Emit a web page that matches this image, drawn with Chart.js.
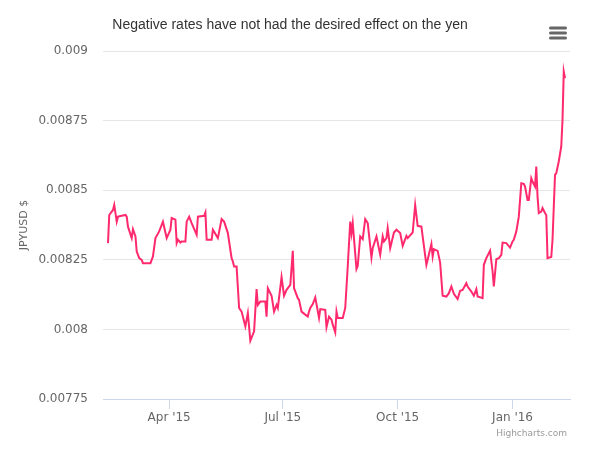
<!DOCTYPE html>
<html>
<head>
<meta charset="utf-8">
<script src="https://cdn.jsdelivr.net/npm/chart.js@4"></script>
<style>
  html, body { margin: 0; padding: 0; background: #fff; }
  #wrap { position: relative; width: 600px; height: 458px; }
</style>
</head>
<body>
<div id="wrap"><canvas id="chart" width="600" height="458"></canvas></div>
<script>
/* JPYUSD line — days counted from 1 Apr 2015. */

const TITLE = "Negative rates have not had the desired effect on the yen";
const Y_TITLE = "JPYUSD $";
const CREDIT = "Highcharts.com";

const dayOffsets = [
  -49, -48, -45, -44, -42, -41, -38, -35, -34, -33, -30, -29, -27, -26, -24, -22, -21, -15, -13, -11,
  -8, -5, -2, 1, 2, 5, 6, 7, 9, 10, 13, 14, 16, 18, 22, 23, 28, 29, 30, 34,
  35, 39, 42, 44, 47, 50, 51, 52, 54, 56, 58, 61, 63, 65, 68, 70, 71, 73, 77, 78,
  79, 82, 84, 86, 87, 90, 92, 94, 97, 99, 100, 103, 104, 106, 109, 111, 112, 113, 115, 117,
  120, 121, 125, 126, 128, 130, 131, 133, 134, 135, 139, 141, 143, 145, 146, 147, 150, 151, 153, 155,
  157, 159, 162, 163, 166, 169, 171, 172, 174, 175, 177, 180, 182, 185, 187, 190, 191, 195, 197, 199,
  202, 203, 206, 207, 210, 211, 212, 215, 217, 219, 222, 224, 226, 228, 231, 233, 235, 238, 239, 242,
  244, 246, 247, 251, 252, 254, 257, 259, 260, 262, 264, 266, 267, 270, 273, 275, 276, 278, 280, 282,
  284, 285, 287, 288, 290, 291, 293, 294, 295, 296, 298, 299, 301, 302, 303, 306, 307, 309, 310, 312,
  314, 315, 316, 317
];

const jpyusd = [
  0.008310, 0.008411, 0.008429, 0.008447, 0.008387, 0.008405, 0.008408, 0.008411, 0.008405, 0.008369,
  0.008328, 0.008360, 0.008334, 0.008280, 0.008256, 0.008250, 0.008238, 0.008238, 0.008262, 0.008328,
  0.008352, 0.008387, 0.008328, 0.008358, 0.008400, 0.008394, 0.008310, 0.008322, 0.008312, 0.008316,
  0.008316, 0.008387, 0.008405, 0.008382, 0.008340, 0.008405, 0.008408, 0.008420, 0.008322, 0.008322,
  0.008358, 0.008328, 0.008396, 0.008387, 0.008346, 0.008256, 0.008244, 0.008226, 0.008226, 0.008077,
  0.008064, 0.008011, 0.008059, 0.007959, 0.007993, 0.008145, 0.008088, 0.008100, 0.008100, 0.008046,
  0.008148, 0.008121, 0.008064, 0.008088, 0.008077, 0.008188, 0.008121, 0.008142, 0.008160, 0.008282,
  0.008148, 0.008112, 0.008106, 0.008064, 0.008053, 0.008046, 0.008064, 0.008077, 0.008091, 0.008115,
  0.008041, 0.008073, 0.008070, 0.008008, 0.008046, 0.008035, 0.008017, 0.007989, 0.008064, 0.008041,
  0.008041, 0.008077, 0.008226, 0.008387, 0.008346, 0.008382, 0.008217, 0.008228, 0.008334, 0.008324,
  0.008396, 0.008382, 0.008258, 0.008292, 0.008334, 0.008268, 0.008334, 0.008316, 0.008328, 0.008364,
  0.008292, 0.008348, 0.008358, 0.008346, 0.008300, 0.008336, 0.008328, 0.008348, 0.008447, 0.008372,
  0.008369, 0.008334, 0.008232, 0.008250, 0.008307, 0.008262, 0.008288, 0.008282, 0.008240, 0.008121,
  0.008118, 0.008130, 0.008154, 0.008128, 0.008109, 0.008139, 0.008142, 0.008166, 0.008154, 0.008136,
  0.008121, 0.008145, 0.008118, 0.008112, 0.008232, 0.008256, 0.008283, 0.008208, 0.008154, 0.008252,
  0.008256, 0.008268, 0.008312, 0.008310, 0.008294, 0.008316, 0.008322, 0.008352, 0.008405, 0.008525,
  0.008523, 0.008513, 0.008465, 0.008465, 0.008543, 0.008531, 0.008513, 0.008585, 0.008477, 0.008418,
  0.008423, 0.008436, 0.008418, 0.008411, 0.008256, 0.008260, 0.008322, 0.008555, 0.008561, 0.008603,
  0.008657, 0.008752, 0.008926, 0.008902
];

const xTickDays = [0, 91, 183, 275];
const xTickLabels = ["Apr '15", "Jul '15", "Oct '15", "Jan '16"];
const yTicks = [0.00775, 0.008, 0.00825, 0.0085, 0.00875, 0.009];

const FONT = "'DejaVu Sans', sans-serif";
const TITLE_FONT = "'Liberation Sans', Arial, sans-serif";
const LINE = "#ff2a6e";

// title, export-menu glyph and credit line drawn straight onto the canvas
const decor = {
  id: "decor",
  afterDraw(chart) {
    const { ctx } = chart;
    ctx.save();
    ctx.fillStyle = "#333333";
    ctx.font = `14px ${TITLE_FONT}`;
    ctx.textAlign = "center";
    ctx.textBaseline = "middle";
    ctx.fillText(TITLE, 290, 25);

    ctx.fillStyle = "#666666";
    [28, 33, 38].forEach((y) => {
      ctx.beginPath();
      ctx.roundRect(549, y - 1.5, 18, 3, 1.5);
      ctx.fill();
    });

    ctx.fillStyle = "#999999";
    ctx.font = `9px ${FONT}`;
    ctx.textAlign = "right";
    ctx.fillText(CREDIT, 567, 434);
    ctx.restore();
  },
};

new Chart(document.getElementById("chart"), {
  type: "line",
  data: {
    datasets: [{
      data: dayOffsets.map((d, i) => ({ x: d, y: jpyusd[i] })),
      borderColor: LINE,
      borderWidth: 2,
      pointRadius: 0,
      tension: 0,
      fill: false,
    }],
  },
  options: {
    responsive: false,
    animation: false,
    events: [],
    layout: { padding: { top: 51, right: 30, bottom: 29, left: 0 } },
    plugins: { legend: { display: false }, title: { display: false }, tooltip: { enabled: false } },
    scales: {
      x: {
        type: "linear",
        min: -53,
        max: 321,
        afterBuildTicks: (s) => { s.ticks = xTickDays.map((v) => ({ value: v })); },
        afterFit: (s) => { s.height = 30; },
        ticks: {
          autoSkip: false,
          maxRotation: 0,
          padding: 2,
          color: "#666666",
          font: { family: FONT, size: 12 },
          callback: (v) => xTickLabels[xTickDays.indexOf(v)] ?? "",
        },
        grid: { drawOnChartArea: false, drawTicks: true, tickLength: 10, color: "#ccd6eb" },
        border: { color: "#ccd6eb", width: 1 },
      },
      y: {
        min: 0.00775,
        max: 0.009,
        afterBuildTicks: (s) => { s.ticks = yTicks.map((v) => ({ value: v })); },
        afterFit: (s) => { s.width = 103; },
        ticks: {
          padding: 15,
          color: "#666666",
          font: { family: FONT, size: 12 },
          callback: (v) => String(Number(v.toFixed(5))),
        },
        grid: { color: "#e6e6e6", drawTicks: false },
        border: { display: false },
        title: {
          display: true,
          text: Y_TITLE,
          color: "#666666",
          font: { family: FONT, size: 11 },
          padding: { top: 18, bottom: 0 },
        },
      },
    },
  },
  plugins: [decor],
});
</script>
</body>
</html>
